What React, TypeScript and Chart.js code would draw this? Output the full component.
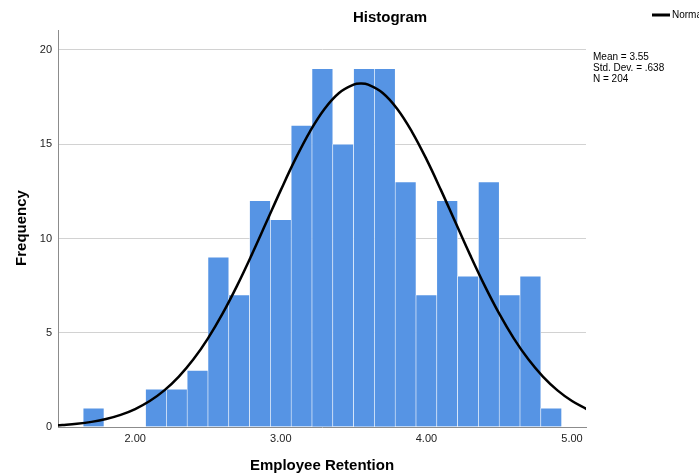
import React, { useEffect, useRef } from "react";
import { Chart, registerables } from "chart.js";

Chart.register(...registerables);

// Bin centres (Employee Retention, bins of width 1/7) and frequencies
const binCenters = [
  12 / 7, 13 / 7, 14 / 7, 15 / 7, 16 / 7, 17 / 7, 18 / 7, 19 / 7, 20 / 7, 21 / 7, 22 / 7,
  23 / 7, 24 / 7, 25 / 7, 26 / 7, 27 / 7, 28 / 7, 29 / 7, 30 / 7, 31 / 7, 32 / 7, 33 / 7, 34 / 7,
];
const frequencies = [1, 0, 0, 2, 2, 3, 9, 7, 12, 11, 16, 19, 15, 19, 19, 13, 7, 12, 8, 13, 7, 8, 1];

// Normal curve
const curveX = [
  1.47, 1.5, 1.6, 1.7, 1.8, 1.9, 2.0, 2.1, 2.2, 2.3, 2.4, 2.5, 2.6, 2.7, 2.8, 2.9, 3.0, 3.1, 3.2,
  3.3, 3.4, 3.5, 3.55, 3.6, 3.7, 3.8, 3.9, 4.0, 4.1, 4.2, 4.3, 4.4, 4.5, 4.6, 4.7, 4.8, 4.9, 5.0,
  5.1,
];
const curveY = [
  0.09, 0.104, 0.171, 0.272, 0.423, 0.643, 0.953, 1.377, 1.942, 2.673, 3.589, 4.703, 6.013, 7.501,
  9.13, 10.843, 12.565, 14.208, 15.675, 16.874, 17.722, 18.164, 18.22, 18.164, 17.722, 16.874,
  15.675, 14.208, 12.565, 10.843, 9.13, 7.501, 6.013, 4.703, 3.589, 2.673, 1.942, 1.377, 0.953,
];

const xTicks = [2, 3, 4, 5];
const yTicks = [0, 5, 10, 15, 20];

const chartTitle = "Histogram";
const xTitle = "Employee Retention";
const yTitle = "Frequency";
const legendLabel = "Normal";
const statsLines = ["Mean = 3.55", "Std. Dev. = .638", "N = 204"];

const FONT = "'Liberation Sans', Arial, sans-serif";

const textPlugin = {
  id: "spssText",
  afterDraw(chart: any) {
    const ctx = chart.ctx as CanvasRenderingContext2D;
    ctx.save();
    ctx.fillStyle = "#000";
    ctx.textBaseline = "middle";
    ctx.textAlign = "center";
    ctx.font = `bold 15px ${FONT}`;
    ctx.fillText(chartTitle, 390, 18);
    ctx.fillText(xTitle, 322, 466);
    ctx.save();
    ctx.translate(22, 228);
    ctx.rotate(-Math.PI / 2);
    ctx.fillText(yTitle, 0, 0);
    ctx.restore();

    // legend
    ctx.strokeStyle = "#000";
    ctx.lineWidth = 3;
    ctx.beginPath();
    ctx.moveTo(652, 15);
    ctx.lineTo(670, 15);
    ctx.stroke();
    ctx.textAlign = "left";
    ctx.font = `10px ${FONT}`;
    ctx.fillText(legendLabel, 672, 15);

    statsLines.forEach((s, i) => ctx.fillText(s, 593, 57 + i * 11));
    ctx.restore();
  },
};

export default function App() {
  const ref = useRef<HTMLCanvasElement>(null);
  useEffect(() => {
    if (!ref.current) return;
    const chart = new Chart(ref.current, {
      type: "bar",
      data: {
        datasets: [
          {
            type: "line",
            data: curveX.map((x, i) => ({ x, y: curveY[i] })),
            borderColor: "#000",
            borderWidth: 2.5,
            pointRadius: 0,
            tension: 0.4,
            fill: false,
            order: 0,
          } as any,
          {
            type: "bar",
            data: binCenters.map((x, i) => ({ x, y: frequencies[i] })),
            backgroundColor: "#5694e4",
            borderColor: "rgba(255,255,255,0.9)",
            borderWidth: 0.6,
            barPercentage: 1,
            categoryPercentage: 1,
            order: 1,
          } as any,
        ],
      },
      options: {
        animation: false,
        responsive: false,
        events: [],
        layout: { padding: { left: 0, top: 30, right: 113, bottom: 0 } },
        plugins: { legend: { display: false }, tooltip: { enabled: false }, title: { display: false } },
        scales: {
          x: {
            type: "linear",
            min: 1.47,
            max: 5.096,
            offset: false,
            afterBuildTicks: (s: any) => {
              s.ticks = xTicks.map((v) => ({ value: v }));
            },
            afterFit: (s: any) => {
              s.height = 49;
            },
            grid: { display: false, drawTicks: false },
            border: { display: true, color: "#8c8c8c", width: 1 },
            ticks: {
              padding: 5,
              color: "#222",
              font: { family: FONT, size: 11 },
              callback: (v: any) => Number(v).toFixed(2),
              maxRotation: 0,
            },
          },
          y: {
            min: 0,
            max: 21.06,
            afterBuildTicks: (s: any) => {
              s.ticks = yTicks.map((v) => ({ value: v }));
            },
            afterFit: (s: any) => {
              s.width = 58;
            },
            grid: {
              drawTicks: false,
              color: (c: any) => (c.tick && c.tick.value === 0 ? "rgba(0,0,0,0)" : "#d2d2d2"),
              lineWidth: 1,
            },
            border: { display: true, color: "#8c8c8c", width: 1 },
            ticks: {
              padding: 6,
              color: "#222",
              font: { family: FONT, size: 11 },
            },
          },
        },
      },
      plugins: [textPlugin],
    });
    return () => chart.destroy();
  }, []);
  return (
    <div style={{ position: "fixed", left: 0, top: 0, width: 699, height: 476, background: "#fff" }}>
      <canvas ref={ref} width={699} height={476} />
    </div>
  );
}
